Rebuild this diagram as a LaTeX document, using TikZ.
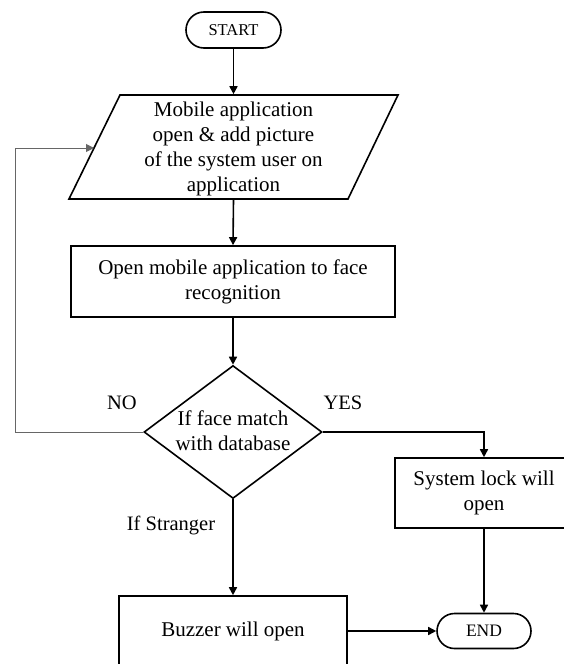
\documentclass[tikz,border=0pt]{standalone}
\usepackage{fontspec}
\setmainfont{Liberation Serif}
\usetikzlibrary{arrows.meta,shapes.geometric,shapes.misc}
\begin{document}
\begin{tikzpicture}[x=1pt,y=-1pt,
  line width=1.6pt,
  txt/.style={font=\fontsize{21}{25}\selectfont, align=center},
  lbl/.style={font=\fontsize{20.5}{24}\selectfont, inner sep=0},
  term/.style={rounded rectangle, draw, line width=1.6pt, inner sep=0,
    font=\fontsize{16.5}{20}\selectfont},
  procbox/.style={rectangle, draw, line width=1.6pt, inner sep=0, txt},
  flow/.style={-{Triangle[length=8pt,width=8pt]}, line width=1.6pt},
  backflow/.style={-{Triangle[length=8pt,width=8pt]}, line width=1pt, draw=black!60}
]
\useasboundingbox (0,0) rectangle (564,664);
\clip (0,0) rectangle (564,664);

% terminals
\node[term, minimum width=95pt, minimum height=36pt] (start) at (233.5,30) {START};
\node[term, minimum width=94pt, minimum height=35pt, font=\fontsize{17.5}{20}\selectfont] (end) at (484,631) {END};

% parallelogram (input)
\draw[line width=1.6pt] (120,95) -- (398,95) -- (348,199) -- (69,199) -- cycle;
\node[inner sep=0, minimum width=200pt, minimum height=104pt] (para) at (233.5,147) {};
\node[txt, inner sep=0] (paratext) at (233.5,149)
  {Mobile application\\open \& add picture\\of the system user on\\application};
\coordinate (loopin) at (94,148);
\coordinate (loopcorner) at (15,148);

% process box
\node[procbox, minimum width=324pt, minimum height=71pt] (recog) at (233,281.5)
  {Open mobile application to face\\recognition};

% decision
\node[diamond, draw, line width=1.6pt, inner sep=0, minimum width=178pt, minimum height=133pt] (dia) at (233,432) {};
\node[txt, inner sep=0] (diatext) at (233,431) {If face match\\with database};

% outcome boxes
\node[procbox, minimum width=178pt, minimum height=70pt] (lock) at (484,493) {System lock will\\open};
\node[procbox, minimum width=228pt, minimum height=70pt] (buzz) at (233,631) {Buzzer will open};

% labels
\node[lbl] (no) at (122,403) {NO};
\node[lbl] (yes) at (343,403) {YES};
\node[lbl] (stranger) at (171,525) {If Stranger};

% connectors
\draw[flow] (start.south) -- (para.north);
\draw[flow] (para.south) -- (recog.north);
\draw[flow] (recog.south) -- (dia.north);
\draw[backflow] (dia.west) -| (loopcorner) -- (loopin);
\draw[flow] (dia.east) -| (lock.north);
\draw[flow] (lock.south) -- (end.north);
\draw[flow] (dia.south) -- (buzz.north);
\draw[flow] (buzz.east) -- (end.west);
\end{tikzpicture}
\end{document}
